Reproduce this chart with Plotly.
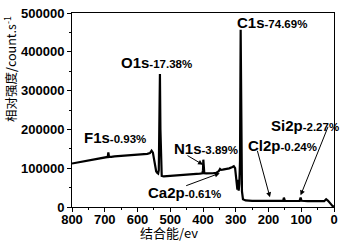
import plotly.graph_objects as go

# Binding energy (eV) and intensity (counts/s)
energy = [800, 790, 780, 770, 760, 750, 740, 730, 720, 710, 700, 694, 691, 689, 687, 684,
          680, 670, 660, 650, 640, 630, 620, 610, 600, 590, 580, 570, 562, 557, 553, 549,
          546, 543, 540, 537, 535, 533, 531.5, 530, 528, 526, 520, 510, 500, 480, 460, 440,
          420, 410, 402, 400, 399, 398, 396, 390, 380, 370, 360, 352, 348, 345, 340, 330,
          320, 310, 306, 302, 298, 295, 293, 291, 289, 287, 285, 283, 281, 278, 270, 250,
          230, 210, 200, 180, 160, 155, 153, 150, 140, 120, 105, 102, 99, 80, 60, 40,
          30, 24, 18, 10, 5, 0]
counts = [112000, 113500, 114500, 116500, 117500, 119500, 120500, 122500, 123500, 124500, 126000, 127000, 129000, 141000, 129000, 129500,
          129000, 130500, 131000, 132500, 133000, 133500, 134500, 134000, 135000, 134500, 136000, 137000, 139000, 145000, 140000, 122000,
          100000, 92000, 88000, 86000, 95000, 200000, 343000, 200000, 90000, 80000, 79000, 79500, 80000, 81000, 82500, 84000,
          85000, 86000, 87000, 95000, 122000, 95000, 87000, 86500, 86000, 87000, 88000, 92000, 98000, 96000, 96500, 98000,
          99500, 103000, 105000, 100000, 60000, 45000, 70000, 42000, 60000, 120000, 457000, 100000, 40000, 20000, 17000, 16000,
          16000, 15500, 15000, 15500, 16000, 16500, 24000, 16000, 15500, 15000, 16000, 24000, 16000, 15000, 14500, 14000,
          15000, 20000, 16000, 8000, 3000, 1000]

x_ticks = [800, 700, 600, 500, 400, 300, 200, 100, 0]
y_ticks = [0, 100000, 200000, 300000, 400000, 500000]

# Peak labels: (main, percent, eV, counts)
labels = [
    ("O1s", "-17.38%", 656, 373000),
    ("C1s", "-74.69%", 301, 475000),
    ("Si2p", "-2.27%", 198, 211000),
    ("Cl2p", "-0.24%", 268, 159000),
    ("N1s", "-3.89%", 496, 152000),
    ("Ca2p", "-0.61%", 574, 37000),
    ("F1s", "-0.93%", 770, 179000),
]
# Arrows: (head eV, head counts, tail dx px, tail dy px)
arrows = [
    (400, 109000, -17, -10),
    (349, 87000, -35, 13),
    (195.5, 25000, -13, -48),
    (102, 30000, 28, -70),
]

FONT = "Liberation Sans, Arial, sans-serif"

fig = go.Figure()
fig.add_trace(go.Scatter(x=energy, y=counts, mode="lines",
                         line=dict(color="black", width=2.2), showlegend=False,
                         hoverinfo="skip"))

ann = []
for main, pct, ex, cy in labels:
    ann.append(dict(x=ex, y=cy, xref="x", yref="y", xanchor="left", yanchor="middle",
                    showarrow=False,
                    text=f"<b>{main}</b><span style='font-size:11.5px'><b>{pct}</b></span>",
                    font=dict(family=FONT, size=15, color="black")))
for ex, cy, dx, dy in arrows:
    ann.append(dict(x=ex, y=cy, xref="x", yref="y", ax=dx, ay=dy, text="",
                    showarrow=True, arrowhead=2, arrowsize=1, arrowwidth=1,
                    arrowcolor="black"))
ann.append(dict(x=-0.237, y=0.711, xref="paper", yref="paper", textangle=-90,
                xanchor="center", yanchor="middle",
                showarrow=False, text="相对强度/count.s<sup>-1</sup>",
                font=dict(family="Noto Sans CJK SC, " + FONT, size=12.5, color="black")))
ann.append(dict(x=0.372, y=-0.13, xref="paper", yref="paper", xanchor="center",
                yanchor="middle", showarrow=False, text="结合能/ev",
                font=dict(family="Noto Sans CJK SC, " + FONT, size=13, color="black")))

axis_common = dict(showgrid=False, zeroline=False, showline=True, linecolor="black",
                   linewidth=1, mirror=True, ticks="outside", ticklen=4, tickwidth=1,
                   tickcolor="black", ticklabeloverflow="allow",
                   tickfont=dict(family=FONT, size=13, color="black"))

fig.update_layout(
    width=344, height=244,
    margin=dict(l=72, r=6, t=6, b=37),
    plot_bgcolor="white", paper_bgcolor="white",
    xaxis=dict(range=[800, 0], tickvals=x_ticks, ticktext=[f"<b>{v}</b>" for v in x_ticks],
               ticklabelstandoff=-4,
               minor=dict(dtick=50, ticks="outside", ticklen=2, tickcolor="black"),
               **axis_common),
    yaxis=dict(range=[0, 500000], tickvals=y_ticks, ticktext=[f"<b>{v}</b>" for v in y_ticks],
               minor=dict(dtick=50000, ticks="outside", ticklen=2, tickcolor="black"),
               **axis_common),
    annotations=ann,
)

fig.write_html("out.html", config={"displayModeBar": False, "staticPlot": True},
               post_script="document.body.style.margin='0';document.body.style.overflow='hidden';")
